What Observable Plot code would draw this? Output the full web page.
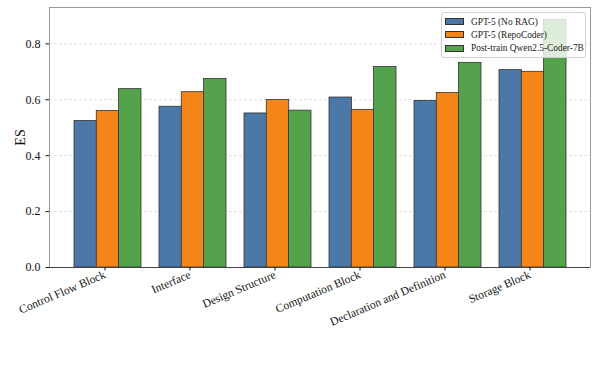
<!DOCTYPE html>
<html>
<head>
<meta charset="utf-8">
<script src="https://cdn.jsdelivr.net/npm/d3@7"></script>
<script src="https://cdn.jsdelivr.net/npm/@observablehq/plot@0.6"></script>
<style>
  body { margin: 0; background: #fff; }
  #wrap { position: relative; width: 598px; height: 373px; font-family: "Liberation Serif", "Times New Roman", serif; }
  #wrap svg, #wrap svg text { font-family: "Liberation Serif", "Times New Roman", serif !important; }
  #legend { position: absolute; left: 441px; top: 12px; width: 145px; box-sizing: border-box; padding: 2px 0 2px 0; background: rgba(255,255,255,0.8); border: 1px solid #d0d0d0; border-radius: 3px; font-family: "Liberation Serif", "Times New Roman", serif; font-size: 9.4px; color: #222; white-space: nowrap; }
  .item { display: flex; align-items: center; height: 13.3px; }
  .sw { width: 19px; height: 7px; margin-left: 3px; margin-right: 7px; border: 0.8px solid #333; box-sizing: border-box; flex: none; }
</style>
</head>
<body>
<div id="wrap"><div id="legend"></div></div>
<script>
const categories = ["Control Flow Block", "Interface", "Design Structure", "Computation Block", "Declaration and Definition", "Storage Block"];
const seriesNames = ["GPT-5 (No RAG)", "GPT-5 (RepoCoder)", "Post-train Qwen2.5-Coder-7B"];
const noRag = [0.524, 0.575, 0.551, 0.608, 0.596, 0.706];
const repoCoder = [0.560, 0.627, 0.599, 0.564, 0.624, 0.700];
const postTrain = [0.638, 0.674, 0.561, 0.717, 0.732, 0.885];
const yTicks = [0.0, 0.2, 0.4, 0.6, 0.8];
const colors = ["#4c78a8", "#f58518", "#54a24b"];

const seriesValues = [noRag, repoCoder, postTrain];
const W = 598, H = 373, mL = 49, mR = 8, mT = 7, mB = 106;
const pIn = 0.215, pOut = 0.286;
const step = (W - mL - mR) / (categories.length - pIn + 2 * pOut);
const bw = step * (1 - pIn);
const sub = bw / 3;

const barMarks = seriesValues.map((vals, i) =>
  Plot.barY(categories.map((c, j) => ({cat: c, v: vals[j]})), {
    x: "cat", y: "v", fill: colors[i], stroke: "#333", strokeWidth: 0.8,
    insetLeft: i * sub, insetRight: (2 - i) * sub
  })
);

const chart = Plot.plot({
  width: W, height: H,
  marginLeft: mL, marginRight: mR, marginTop: mT, marginBottom: mB,
  style: {fontFamily: "'Liberation Serif', 'Times New Roman', serif", fontSize: "11px", color: "#111"},
  x: {type: "band", domain: categories, paddingInner: pIn, paddingOuter: pOut},
  y: {domain: [0, 0.93]},
  marks: [
    Plot.gridY(yTicks.filter(d => d > 0), {stroke: "#bbb", strokeOpacity: 0.7, strokeDasharray: "3,2", strokeWidth: 0.7}),
    ...barMarks,
    Plot.frame({stroke: "#999", strokeWidth: 1}),
    Plot.ruleY([0], {stroke: "#444", strokeWidth: 1.2}),
    Plot.axisY({ticks: yTicks, tickFormat: d3.format(".1f"), tickSize: 3.5, label: null, fontSize: 12}),
    Plot.axisY({ticks: [], label: "ES", labelAnchor: "center", labelArrow: "none", labelOffset: 34, fontSize: 14}),
    Plot.axisX({tickRotate: -23, tickSize: 3.5, label: null, fontSize: 11.6, tickPadding: 3, dx: -3})
  ]
});
document.getElementById("wrap").prepend(chart);

const legend = document.getElementById("legend");
seriesNames.forEach((n, i) => {
  const it = document.createElement("div");
  it.className = "item";
  const sw = document.createElement("div");
  sw.className = "sw";
  sw.style.background = colors[i];
  const t = document.createElement("span");
  t.textContent = n;
  it.append(sw, t);
  legend.append(it);
});
</script>
</body>
</html>
